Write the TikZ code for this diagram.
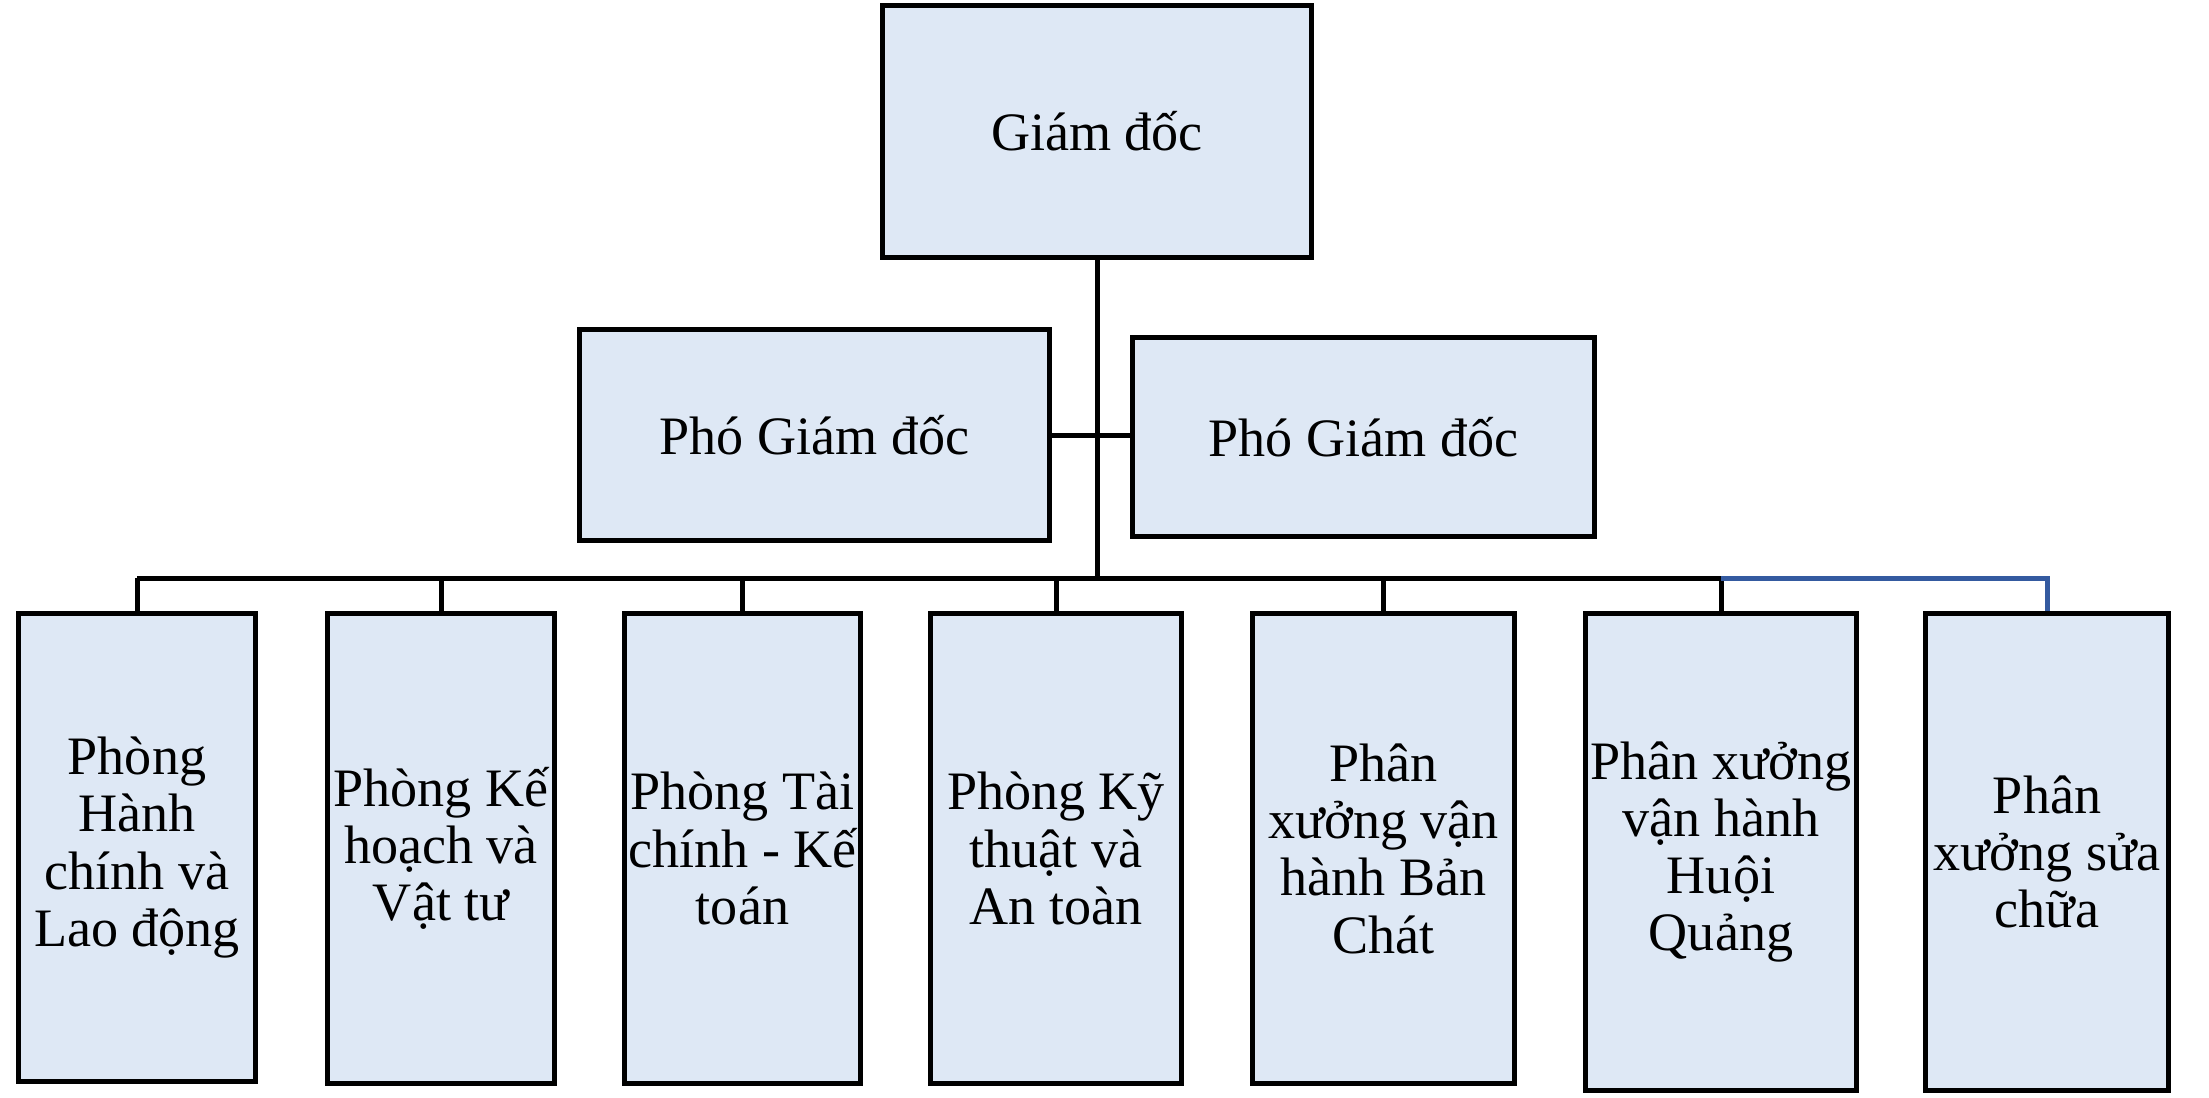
\documentclass[tikz,border=0pt]{standalone}
\usepackage{fontspec}
\setmainfont{Liberation Serif}
\usepackage{xcolor}
\usepackage{tikz}
\definecolor{boxfill}{RGB}{222,232,245}
\definecolor{linkblue}{RGB}{52,90,160}
\tikzset{ org_box/.style = {rectangle, draw, line width=0.55mm, fill=boxfill, align=center, inner sep=0pt, font=\fontsize{15.4}{16.3}\selectfont} }
\tikzset{ org_line/.style = {line width=0.5mm} }

\begin{document}
\begin{tikzpicture}
        \useasboundingbox (0,0) rectangle (22.09,-10.97);
        \node[org_box, minimum width=4.29cm, minimum height=2.52cm] (gd) at (10.97,-1.315) {Giám đốc};
        \node[org_box, minimum width=4.70cm, minimum height=2.11cm] (pgd1) at (8.145,-4.35) {Phó Giám đốc};
        \node[org_box, minimum width=4.62cm, minimum height=1.99cm] (pgd2) at (13.635,-4.37) {Phó Giám đốc};
        \node[org_box, minimum width=2.37cm, minimum height=4.68cm] (p1) at (1.37,-8.475) {Phòng\\Hành\\chính và\\Lao động};
        \node[org_box, minimum width=2.27cm, minimum height=4.70cm] (p2) at (4.41,-8.485) {Phòng Kế\\hoạch và\\Vật tư};
        \node[org_box, minimum width=2.36cm, minimum height=4.70cm] (p3) at (7.425,-8.485) {Phòng Tài\\chính - Kế\\toán};
        \node[org_box, minimum width=2.51cm, minimum height=4.70cm] (p4) at (10.56,-8.485) {Phòng Kỹ\\thuật và\\An toàn};
        \node[org_box, minimum width=2.62cm, minimum height=4.70cm] (p5) at (13.835,-8.485) {Phân\\xưởng vận\\hành Bản\\Chát};
        \node[org_box, minimum width=2.71cm, minimum height=4.77cm] (p6) at (17.21,-8.52) {Phân xưởng\\vận hành\\Huội\\Quảng};
        \node[org_box, minimum width=2.43cm, minimum height=4.77cm] (p7) at (20.47,-8.52) {Phân\\xưởng sửa\\chữa};
        \coordinate (bus) at (10.98,-5.78);
        \draw[org_line] (gd.south) -- (gd.south |- bus);
        \draw[org_line] (pgd1.east) -- (pgd1.east -| pgd2.west);
        \draw[org_line] (p1.north |- bus) -- (p6.north |- bus);
        \foreach \n in {p1,p2,p3,p4,p5,p6}
            \draw[org_line] (\n.north |- bus) -- (\n.north);
        \draw[org_line, linkblue] (p6.north |- bus) -| (p7.north);
        \end{tikzpicture}
\end{document}
